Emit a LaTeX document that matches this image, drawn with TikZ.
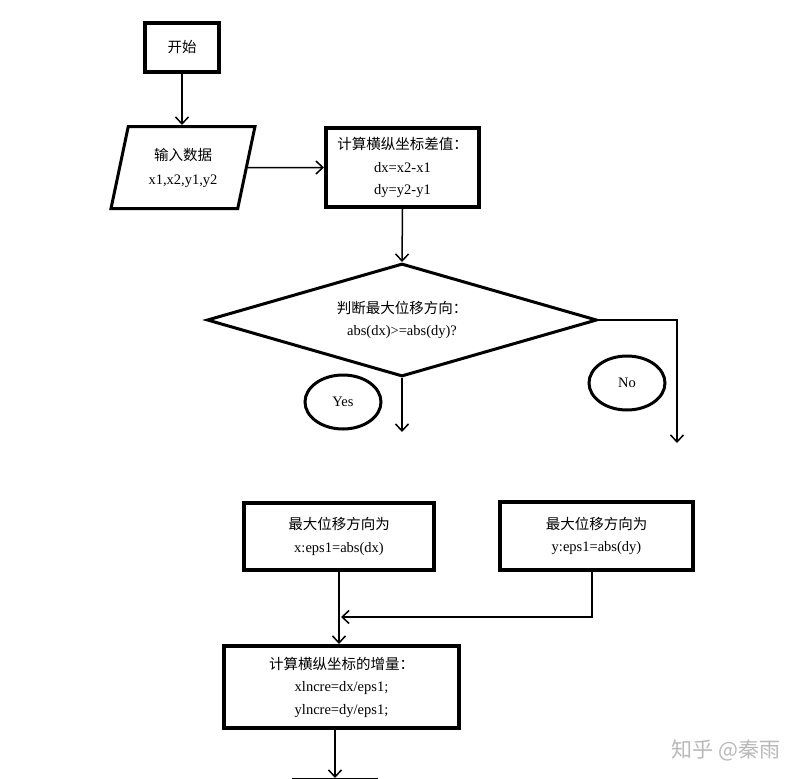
\documentclass[tikz,border=0pt]{standalone}
\usepackage{fontspec}
\setmainfont{Liberation Serif}
\newfontfamily\cjk{Noto Sans CJK SC}
\usetikzlibrary{shapes.geometric,arrows.meta}
\definecolor{markGray}{HTML}{b9b9b9}
\tikzset{
    box/.style={draw, line width=4pt, align=center, inner sep=2pt,
        font=\fontsize{14.5}{22.5}\selectfont},
    io/.style={draw, trapezium, trapezium left angle=75.5, trapezium right angle=104.5,
        trapezium stretches=true, line width=3pt, align=center,
        font=\fontsize{14.5}{24}\selectfont},
    choice/.style={draw, diamond, line width=3pt, align=center, shape aspect=3.4,
        font=\fontsize{14.5}{22}\selectfont},
    branch/.style={draw, ellipse, line width=3pt, minimum width=76pt, minimum height=54pt,
        font=\fontsize{14.5}{17}\selectfont},
    flow/.style={-{Straight Barb[length=7pt,width=13pt]}, line width=1.5pt}
}

\begin{document}
\begin{tikzpicture}[x=1pt, y=-1pt]
            \useasboundingbox (0,0) rectangle (812,779);
            \clip (0,0) rectangle (812,779);
            \fill[white] (0,0) rectangle (812,779);
            % steps
            \node[box, minimum width=74, minimum height=49] (start) at (182,47.5) {\cjk 开始};
            \node[io, minimum width=145, minimum height=82] (input) at (183,167.5) {\cjk 输入数据\\x1,x2,y1,y2};
            \node[box, minimum width=153, minimum height=79] (diff) at (402.5,167.5) {\cjk 计算横纵坐标差值：\\dx=x2-x1\\dy=y2-y1};
            \node[choice, minimum width=390, minimum height=113] (judge) at (402,320) {\cjk 判断最大位移方向：\\abs(dx)>=abs(dy)?};
            \node[branch] (yes) at (343,402) {Yes};
            \node[branch] (no) at (627,383) {No};
            \node[box, minimum width=190, minimum height=67] (xdir) at (339,536.5) {\cjk 最大位移方向为\\x:eps1=abs(dx)};
            \node[box, minimum width=193, minimum height=68] (ydir) at (596.5,536) {\cjk 最大位移方向为\\y:eps1=abs(dy)};
            \node[box, minimum width=235, minimum height=82] (incr) at (341.5,687) {\cjk 计算横纵坐标的增量：\\xlncre=dx/eps1;\\ylncre=dy/eps1;};
            \node[box, minimum width=82, minimum height=60, anchor=north] (next) at (335,778) {};
            \node[text=markGray, font=\cjk\fontsize{21}{21}\selectfont] (mark) at (726,750) {知乎 @秦雨};
            % loose ends
            \coordinate (yesEnd) at (402,432);
            \coordinate (noEnd) at (677,443);
            \coordinate (join) at (341,617);
            % connectors
            \draw[flow] (start.south) -- (start.south |- input.north);
            \draw[flow] (input.east) -- (diff.west);
            \draw[flow] (diff.south) -- (judge.north);
            \draw[flow] (judge.south) -- (yesEnd);
            \draw[flow] (judge.east) -| (noEnd);
            \draw[flow] (xdir.south) -- (xdir.south |- incr.north);
            \draw[flow] ([xshift=-4.5pt]ydir.south) |- (join);
            \draw[flow] (next.north |- incr.south) -- (next.north);
        \end{tikzpicture}
\end{document}
